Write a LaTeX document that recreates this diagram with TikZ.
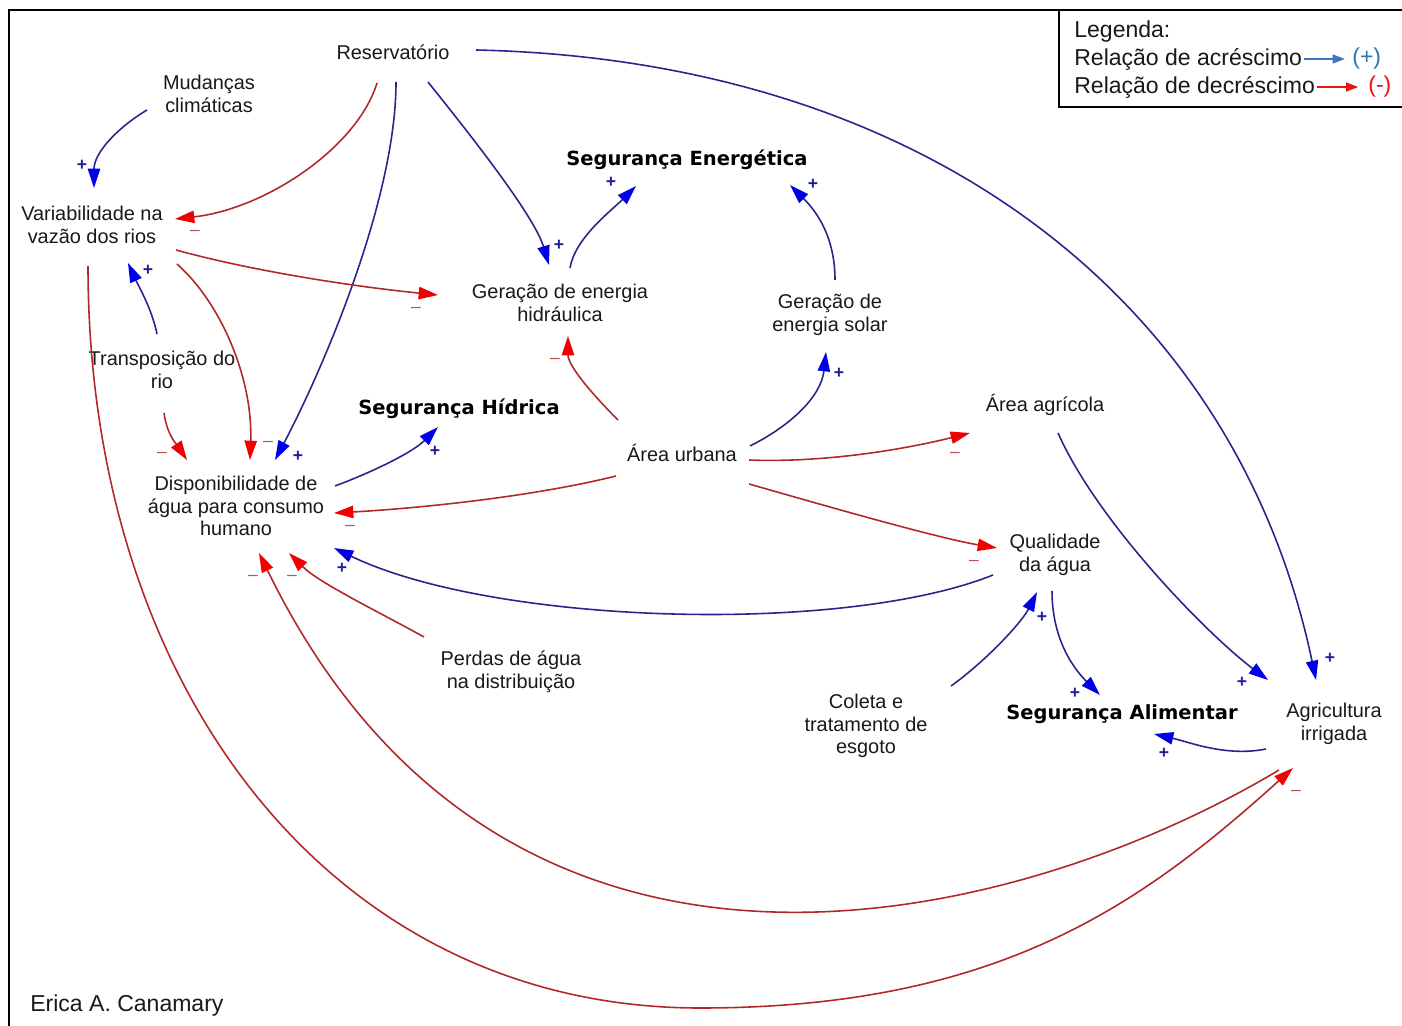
\documentclass[tikz,border=0pt]{standalone}
\usepackage{fontspec}
\setmainfont{Liberation Sans}
\newfontfamily\dejavu{DejaVu Sans}
\usetikzlibrary{arrows.meta,calc}
\definecolor{bline}{RGB}{38,38,140}
\definecolor{bhead}{RGB}{0,0,230}
\definecolor{rline}{RGB}{178,40,40}
\definecolor{rhead}{RGB}{240,0,0}
\definecolor{pcol}{RGB}{30,30,150}
\definecolor{mcol}{RGB}{190,80,80}
\definecolor{legb}{RGB}{68,114,196}
\definecolor{legbt}{RGB}{46,117,182}
\definecolor{legr}{RGB}{235,20,20}
\begin{document}
\begin{tikzpicture}[x=0.02cm,y=0.02cm,
  txt/.style={font=\fontsize{11.34}{13}\selectfont, align=center, inner sep=0pt, text=black!90},
  bld/.style={font=\dejavu\bfseries\fontsize{11.1}{13}\selectfont, inner sep=0pt, text=black},
  legt/.style={font=\fontsize{13.1}{15}\selectfont, inner sep=0pt, anchor=west, text=black!90},
  plink/.style={draw=bline, line width=0.9pt, -{Triangle[length=11pt,width=7pt,color=bhead]}},
  nlink/.style={draw=rline, line width=0.9pt, -{Triangle[length=11pt,width=7pt,color=rhead]}},
  psign/.style={text=pcol, font=\bfseries\fontsize{10}{10}\selectfont, inner sep=0pt},
  msign/.style={text=mcol, font=\fontsize{10}{10}\selectfont, inner sep=0pt},
]
\useasboundingbox (0,0) rectangle (1402,1025);
\fill[white] (0,0) rectangle (1402,1025);
% frame
\draw[line width=1.1pt] (9,-10) -- (9,1015) -- (1412,1015);
\draw[line width=1pt] (1059,1015) -- (1059,918) -- (1412,918);

% nodes
\node[txt] (res) at (393,973) {Reservatório};
\node[txt] (mud) at (209,931) {Mudanças\\climáticas};
\node[txt] (var) at (92,800) {Variabilidade na\\vazão dos rios};
\node[bld] (sene) at (687,865) {Segurança Energética};
\node[txt] (hid) at (560,722) {Geração de energia\\hidráulica};
\node[txt] (sol) at (830,710) {Geração de\\energia solar};
\node[txt] (tra) at (162,655) {Transposição do\\rio};
\node[bld] (shid) at (459,616) {Segurança Hídrica};
\node[txt] (urb) at (682,572) {Área urbana};
\node[txt] (agr) at (1045,620) {Área agrícola};
\node[txt] (disp) at (236,519) {Disponibilidade de\\água para consumo\\humano};
\node[txt] (qual) at (1055,470) {Qualidade\\da água};
\node[txt] (perd) at (511,353) {Perdas de água\\na distribuição};
\node[txt] (col) at (866,299) {Coleta e\\tratamento de\\esgoto};
\node[bld] (sali) at (1122,311) {Segurança Alimentar};
\node[txt] (irr) at (1334,301) {Agricultura\\irrigada};
\node[legt] (eri) at (30,19) {Erica A. Canamary};

% legend
\node[legt] (leg0) at (1074,993) {Legenda:};
\node[legt] (leg1) at (1074,966) {Relação de acréscimo};
\node[legt] (leg2) at (1074,938) {Relação de decréscimo};
\node[legt, text=legbt] (lp) at (1352,966) {(+)};
\node[legt, text=legr] (lm) at (1368,938) {(-)};
\draw[legb, line width=1.2pt, shorten <=1pt, shorten >=4pt, -{Triangle[length=7pt,width=5pt]}] (leg1.east) -- (lp.west);
\draw[legr, line width=1.2pt, shorten <=1pt, shorten >=5.5pt, -{Triangle[length=7pt,width=5pt]}] (leg2.east) -- (lm.west);

% bottom waypoint of the long loop
\coordinate (rb) at (700,17);

% positive links
\draw[plink] ($(mud)+(-62,-16)$) .. controls +(-30,-18) and +(0,35) .. ($(var)+(2,37)$);
\draw[plink] ($(res)+(35,-30)$) .. controls +(40,-50) and +(-15,50) .. ($(hid)+(-11,38)$);
\draw[plink] ($(res)+(3,-30)$) .. controls +(0,-120) and +(45,85) .. ($(disp)+(39,46)$);
\draw[plink] ($(res)+(83,2)$) .. controls +(450,-10) and +(-80,380) .. ($(irr)+(-18,44)$);
\draw[plink] ($(hid)+(10,35)$) .. controls +(5,30) and +(-25,-25) .. ($(sene)+(-51,-26)$);
\draw[plink] ($(sol)+(5,35)$) .. controls +(0,45) and +(25,-25) .. ($(sene)+(103,-25)$);
\draw[plink] ($(tra)+(-5,36)$) .. controls +(-5,25) and +(10,-22) .. ($(var)+(36,-38)$);
\draw[plink] ($(urb)+(68,7)$) .. controls +(40,20) and +(-5,-45) .. ($(sol)+(-4,-37)$);
\draw[plink] ($(disp)+(99,20)$) .. controls +(40,15) and +(-25,-25) .. ($(shid)+(-21,-18)$);
\draw[plink] ($(qual)+(-62,-20)$) .. controls +(-150,-60) and +(160,-77) .. ($(disp)+(98,-42)$);
\draw[plink] ($(agr)+(13,-28)$) .. controls +(40,-90) and +(-60,45) .. ($(irr)+(-66,44)$);
\draw[plink] ($(col)+(85,40)$) .. controls +(35,25) and +(-15,-30) .. ($(qual)+(-18,-37)$);
\draw[plink] ($(qual)+(-3,-36)$) .. controls +(0,-50) and +(-25,25) .. ($(sali)+(-22,19)$);
\draw[plink] ($(irr)+(-68,-25)$) .. controls +(-40,-8) and +(35,-8) .. ($(sali)+(32,-20)$);

% negative links
\draw[nlink] ($(res)+(-16,-31)$) .. controls +(-20,-65) and +(90,10) .. ($(var)+(83,6)$);
\draw[nlink] ($(var)+(84,-25)$) .. controls +(80,-22) and +(-80,8) .. ($(hid)+(-122,8)$);
\draw[nlink] ($(var)+(85,-39)$) .. controls +(45,-40) and +(3,80) .. ($(disp)+(14,46)$);
\draw[nlink] ($(tra)+(2,-43)$) .. controls +(3,-22) and +(-10,15) .. ($(disp)+(-49,46)$);
\draw[nlink] ($(urb)+(-64,33)$) .. controls +(-25,25) and +(0,-30) .. ($(hid)+(8,-33)$);
\draw[nlink] ($(urb)+(67,-7)$) .. controls +(80,-3) and +(-60,-15) .. ($(agr)+(-75,-28)$);
\draw[nlink] ($(urb)+(-66,-23)$) .. controls +(-80,-20) and +(90,5) .. ($(disp)+(98,-7)$);
\draw[nlink] ($(urb)+(67,-31)$) .. controls +(70,-20) and +(-60,10) .. ($(qual)+(-58,7)$);
\draw[nlink] ($(perd)+(-87,35)$) .. controls +(-45,25) and +(30,-30) .. ($(disp)+(53,-47)$);
\draw[nlink] ($(irr)+(-55,-46)$) .. controls +(-250,-150) and +(250,-512) .. ($(disp)+(23,-47)$);
\draw[nlink] ($(var)+(-4,-41)$) .. controls +(0,-420) and +(-370,0) .. (rb)
  .. controls +(300,0) and +(-150,-135) .. ($(irr)+(-41,-44)$);

% polarity signs
\node[psign] (p1) at (82,860) {+};
\node[psign] (p2) at (559,780) {+};
\node[psign] (p3) at (298,569) {+};
\node[psign] (p4) at (1330,367) {+};
\node[psign] (p5) at (611,843) {+};
\node[psign] (p6) at (813,841) {+};
\node[psign] (p7) at (148,755) {+};
\node[psign] (p8) at (839,652) {+};
\node[psign] (p9) at (435,574) {+};
\node[psign] (p10) at (342,457) {+};
\node[psign] (p11) at (1242,343) {+};
\node[psign] (p12) at (1042,408) {+};
\node[psign] (p13) at (1075,332) {+};
\node[psign] (p14) at (1164,272) {+};
\node[msign] (m1) at (195,792) {–};
\node[msign] (m2) at (416,715) {–};
\node[msign] (m3) at (268,581) {–};
\node[msign] (m4) at (162,570) {–};
\node[msign] (m5) at (555,664) {–};
\node[msign] (m6) at (955,570) {–};
\node[msign] (m7) at (350,497) {–};
\node[msign] (m8) at (974,462) {–};
\node[msign] (m9) at (292,447) {–};
\node[msign] (m10) at (253,447) {–};
\node[msign] (m11) at (1296,232) {–};
\end{tikzpicture}
\end{document}
